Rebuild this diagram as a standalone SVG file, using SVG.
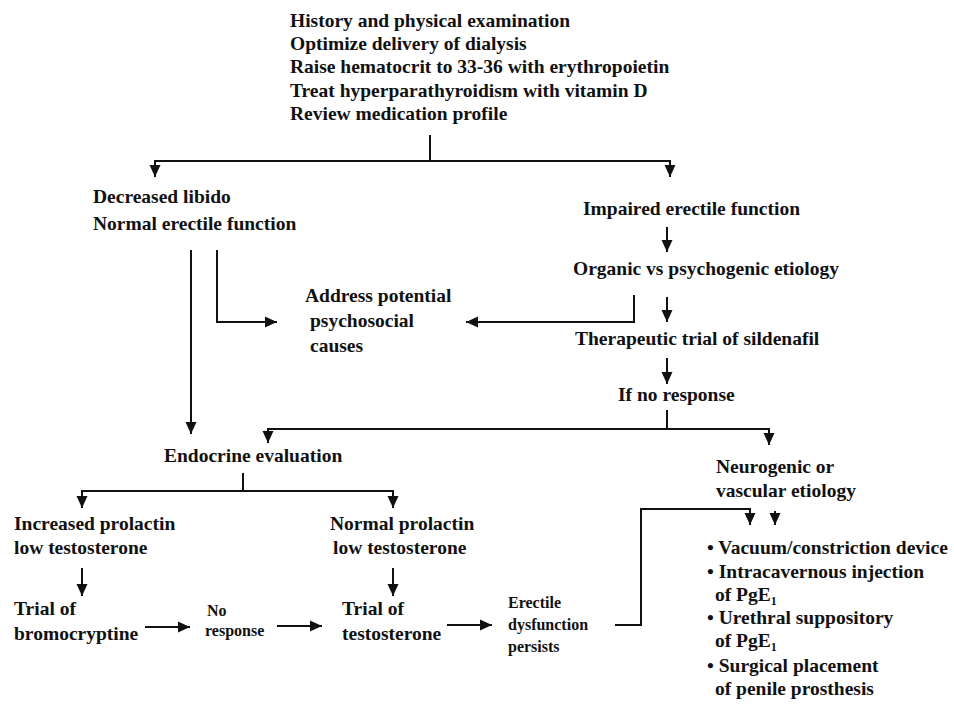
<svg xmlns="http://www.w3.org/2000/svg" width="954" height="706" viewBox="0 0 954 706">
<defs>
<marker id="ah" markerUnits="userSpaceOnUse" markerWidth="12" markerHeight="12" refX="12" refY="6" orient="auto" viewBox="0 0 12 12">
<path d="M0,0.5 L12,6 L0,11.5 z" fill="#111"/>
</marker>
<style>
text{font-family:"Liberation Serif","Times New Roman",serif;font-weight:bold;font-size:19.5px;fill:#111}
.sm{font-size:16px}
.c{fill:none;stroke:#111;stroke-width:2}
.a{marker-end:url(#ah)}
</style>
</defs>
<rect width="954" height="706" fill="#fff"/>
<g id="connectors">
<path class="c" d="M430,135 V161"/>
<path class="c a" d="M155,161 H670 V177"/>
<path class="c a" d="M430,161 H155 V177"/>
<path class="c a" d="M191,250 V434"/>
<path class="c a" d="M217,250 V322 H277"/>
<path class="c a" d="M667,227 V252"/>
<path class="c a" d="M634,295 V322 H466"/>
<path class="c a" d="M667,297 V322"/>
<path class="c a" d="M667,358 V384"/>
<path class="c" d="M667,410 V429"/>
<path class="c a" d="M667,429 H268 V443"/>
<path class="c a" d="M667,429 H769 V445"/>
<path class="c" d="M243,473 V491"/>
<path class="c a" d="M243,491 H82 V508"/>
<path class="c a" d="M243,491 H393 V508"/>
<path class="c a" d="M82,568 V596"/>
<path class="c a" d="M393,568 V596"/>
<path class="c a" d="M145,627 H190"/>
<path class="c a" d="M277,626 H322"/>
<path class="c a" d="M447,625 H492"/>
<path class="c a" d="M615,625 H641 V509 H750 V525"/>
<path class="c a" d="M775,511 V525"/>
</g>
<g id="n-initial">
<text x="290" y="27">History and physical examination</text>
<text x="290" y="50">Optimize delivery of dialysis</text>
<text x="290" y="73">Raise hematocrit to 33-36 with erythropoietin</text>
<text x="290" y="97">Treat hyperparathyroidism  with vitamin D</text>
<text x="290" y="120">Review medication profile</text>
</g>
<g id="n-libido">
<text x="93" y="203">Decreased libido</text>
<text x="93" y="230">Normal erectile function</text>
</g>
<g id="n-psychosocial">
<text x="305" y="302">Address potential</text>
<text x="310" y="327">psychosocial</text>
<text x="310" y="352">causes</text>
</g>
<g id="n-impaired">
<text x="583" y="215">Impaired erectile function</text>
</g>
<g id="n-organic">
<text x="573" y="275">Organic vs psychogenic etiology</text>
</g>
<g id="n-sildenafil">
<text x="575" y="345">Therapeutic trial of sildenafil</text>
</g>
<g id="n-noresponse1">
<text x="618" y="401">If no response</text>
</g>
<g id="n-endocrine">
<text x="164" y="462">Endocrine evaluation</text>
</g>
<g id="n-neurogenic">
<text x="716" y="473">Neurogenic or</text>
<text x="716" y="497">vascular etiology</text>
</g>
<g id="n-incprolactin">
<text x="14" y="530">Increased prolactin</text>
<text x="14" y="554">low testosterone</text>
</g>
<g id="n-normprolactin">
<text x="330" y="530">Normal prolactin</text>
<text x="333" y="554">low testosterone</text>
</g>
<g id="n-bromocryptine">
<text x="14" y="615">Trial of</text>
<text x="14" y="640">bromocryptine</text>
</g>
<g id="n-noresponse2">
<text class="sm" x="207" y="616">No</text>
<text class="sm" x="205" y="636">response</text>
</g>
<g id="n-testosterone">
<text x="342" y="615">Trial of</text>
<text x="342" y="640">testosterone</text>
</g>
<g id="n-persists">
<text class="sm" x="508" y="608">Erectile</text>
<text class="sm" x="508" y="630">dysfunction</text>
<text class="sm" x="508" y="652">persists</text>
</g>
<g id="n-treatments">
<text x="707" y="554">• Vacuum/constriction device</text>
<text x="707" y="578">• Intracavernous injection</text>
<text x="715" y="601">of PgE<tspan font-size="12" dy="4">1</tspan></text>
<text x="707" y="624">• Urethral suppository</text>
<text x="715" y="647">of PgE<tspan font-size="12" dy="4">1</tspan></text>
<text x="707" y="672">• Surgical placement</text>
<text x="715" y="695">of penile prosthesis</text>
</g>
</svg>
